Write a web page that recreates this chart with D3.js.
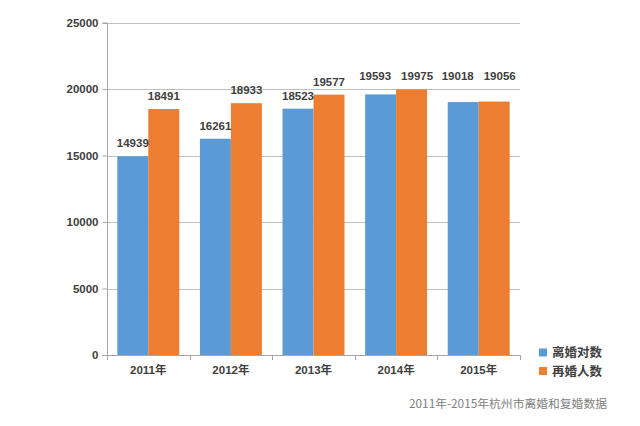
<!DOCTYPE html>
<html><head><meta charset="utf-8">
<script src="https://cdn.jsdelivr.net/npm/d3@7"></script>
<style>html,body{margin:0;padding:0;background:#fff;}svg{display:block;}</style>
</head><body>
<script>
const categories = ["2011年","2012年","2013年","2014年","2015年"];
const divorce = [14939,16261,18523,19593,19018];
const remarry = [18491,18933,19577,19975,19056];
const seriesNames = ["离婚对数","再婚人数"];
const yTicks = [0,5000,10000,15000,20000,25000];
const caption = "2011年-2015年杭州市离婚和复婚数据";

(function(){
const W=640,H=426;
const colors=["#5B9BD5","#ED7D31"];
const svg=d3.select("body").append("svg").attr("width",W).attr("height",H);
const pLeft=107,pRight=520,pTop=22.5,pBottom=355;
const y=d3.scaleLinear().domain([0,25000]).range([pBottom,pTop]);
const x0=d3.scaleBand().domain(categories).range([pLeft,pRight]).paddingInner(0.25).paddingOuter(0.125);
const x1=d3.scaleBand().domain([0,1]).range([0,x0.bandwidth()]);
const fontF="'Liberation Sans',Arial,'Noto Sans CJK SC',sans-serif";

// gridlines
svg.append("g").selectAll("line").data(yTicks.filter(d=>d>0)).join("line")
  .attr("x1",pLeft).attr("x2",pRight).attr("y1",d=>Math.round(y(d))+0.5).attr("y2",d=>Math.round(y(d))+0.5)
  .attr("stroke","#bfbfbf").attr("stroke-width",1);

// y axis
const ya=svg.append("g").attr("transform",`translate(${pLeft+0.5},0)`)
  .call(d3.axisLeft(y).tickValues(yTicks).tickSize(5).tickPadding(4).tickFormat(d3.format("d")));
ya.select(".domain").attr("stroke","#a6a6a6").attr("d",`M-5,${Math.round(y(25000))+0.5}H0V${pBottom+0.5}H-5`);
ya.selectAll(".tick line").attr("stroke","#a6a6a6");
ya.selectAll(".tick text").attr("font-family",fontF).attr("font-size",11.5).attr("font-weight","bold").attr("fill","#404040");

// bars
const data=categories.map((c,i)=>({c,vals:[divorce[i],remarry[i]]}));
const g=svg.append("g").selectAll("g").data(data).join("g").attr("transform",d=>`translate(${x0(d.c)},0)`);
g.selectAll("rect").data(d=>d.vals.map((v,k)=>({v,k}))).join("rect")
  .attr("x",d=>x1(d.k)).attr("width",x1.bandwidth()).attr("y",d=>y(d.v)).attr("height",d=>pBottom-y(d.v))
  .attr("fill",d=>colors[d.k]);

// labels
g.each(function(d){
  const aligned=d.vals.every(v=>v>19000);
  d3.select(this).selectAll("text.lbl").data(d.vals.map((v,k)=>({v,k}))).join("text").attr("class","lbl")
    .attr("x",e=>x1(e.k)+x1.bandwidth()/2+(aligned?(e.k===0?-5.5:5.5):0))
    .attr("y",e=>aligned?y(20000)-9:y(e.v)-9)
    .attr("text-anchor","middle").attr("font-family",fontF).attr("font-size",11.5).attr("font-weight","bold")
    .attr("fill","#404040").text(e=>e.v);
});

// x axis
const xa=svg.append("g");
xa.append("line").attr("x1",pLeft).attr("x2",pRight).attr("y1",pBottom+0.5).attr("y2",pBottom+0.5).attr("stroke","#a6a6a6");
const bounds=categories.map(c=>x0(c)-x0.step()*x0.paddingInner()/2).concat([pRight]);
xa.selectAll("line.t").data(bounds).join("line").attr("class","t")
  .attr("x1",d=>Math.round(d)+0.5).attr("x2",d=>Math.round(d)+0.5).attr("y1",pBottom).attr("y2",pBottom+5).attr("stroke","#a6a6a6");
xa.selectAll("text").data(categories).join("text")
  .attr("x",d=>x0(d)+x0.bandwidth()/2).attr("y",pBottom+19)
  .attr("text-anchor","middle").attr("font-family",fontF).attr("font-size",11.5).attr("font-weight","bold")
  .attr("fill","#404040").text(d=>d);

// legend
const lg=svg.append("g").selectAll("g").data(seriesNames).join("g")
  .attr("transform",(d,i)=>`translate(539,${352.5+i*18.5})`);
lg.append("rect").attr("x",0).attr("y",-4).attr("width",8).attr("height",8).attr("fill",(d,i)=>colors[i]);
lg.append("text").attr("x",13).attr("y",4.5).attr("font-family","'Noto Sans CJK SC',sans-serif").attr("font-size",12.5)
  .attr("font-weight","bold").attr("fill","#404040").text(d=>d);

// caption
svg.append("text").attr("x",409).attr("y",407.5).attr("font-family","'Noto Sans CJK SC',sans-serif")
  .attr("font-size",11.5).attr("fill","#808080").attr("textLength",198).attr("lengthAdjust","spacingAndGlyphs").text(caption);
})();
</script>
</body></html>
